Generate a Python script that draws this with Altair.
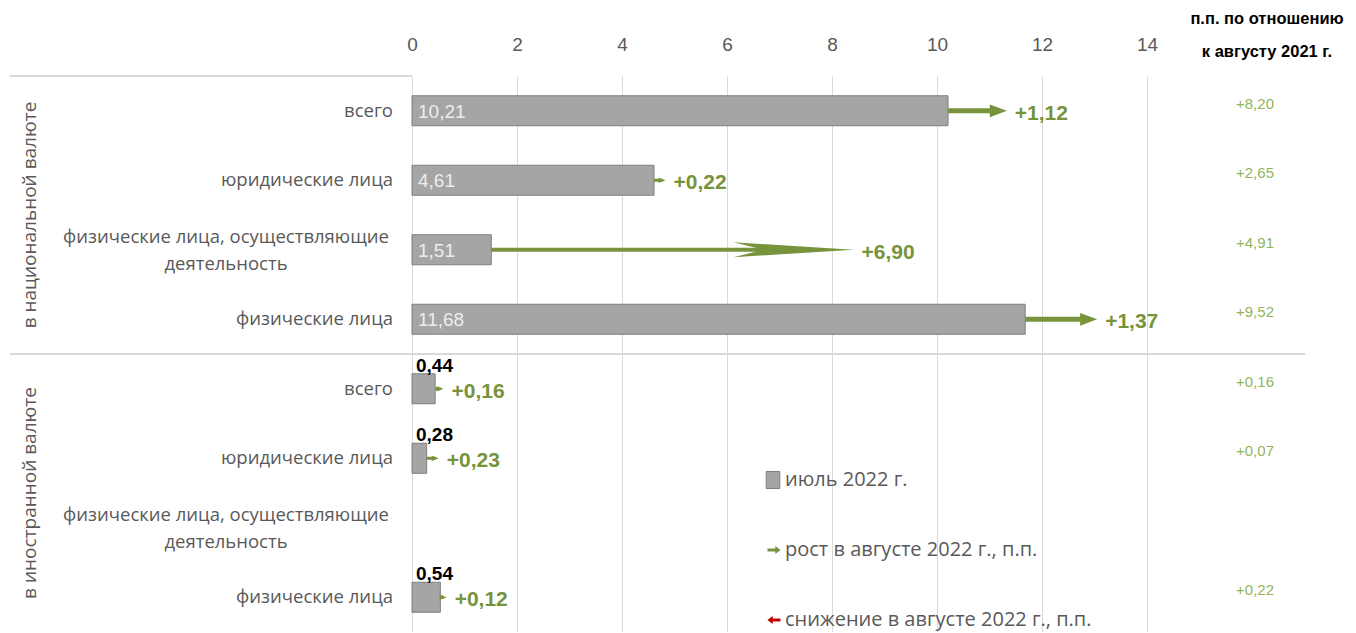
import altair as alt
import pandas as pd

# ---------------- data ----------------
groups = ["в национальной валюте", "в иностранной валюте"]
cat_line1 = ["всего", "юридические лица", "физические лица, осуществляющие", "физические лица"]
cat_line2 = ["", "", "деятельность", ""]

july_nat = [10.21, 4.61, 1.51, 11.68]
july_for = [0.44, 0.28, None, 0.54]
chg_nat = [1.12, 0.22, 6.90, 1.37]
chg_for = [0.16, 0.23, None, 0.12]
yoy_nat = [8.20, 2.65, 4.91, 9.52]
yoy_for = [0.16, 0.07, None, 0.22]

x_ticks = [0, 2, 4, 6, 8, 10, 12, 14]
header_text = "п.п. по отношению\nк августу 2021 г."
legend_labels = ["июль 2022 г.", "рост в августе 2022 г., п.п.", "снижение в августе 2022 г., п.п."]

records = []
for gi, (jul, chg, yoy) in enumerate([(july_nat, chg_nat, yoy_nat), (july_for, chg_for, yoy_for)]):
    for ci in range(len(cat_line1)):
        records.append({
            "row": gi * 4 + ci,
            "gi": gi,
            "line1": cat_line1[ci],
            "line2": cat_line2[ci],
            "value": jul[ci],
            "delta": chg[ci],
            "yoy": yoy[ci],
        })
df = pd.DataFrame(records)
gdf = pd.DataFrame({"group": groups, "gi": [0, 1]})
hdf = pd.DataFrame({"h": [header_text]})
ldf = pd.DataFrame({"label": legend_labels, "i": [0, 1, 2]})

# ---------------- styles ----------------
SANS = "Open Sans"
CAL = "Liberation Sans, Arial, sans-serif"
GREEN = "#77933C"
LGREEN = "#92B55A"
TXT = "#595959"
GRID = "#D9D9D9"

x_axis = alt.Axis(orient="top", values=x_ticks, grid=True, gridColor=GRID, gridWidth=1,
                  domain=False, ticks=False, labelFont=CAL, labelFontSize=19,
                  labelColor=TXT, labelPadding=22, title=None, labelFlush=False)
x_scale = alt.Scale(domain=[0, 14], nice=False, zero=True)
y_scale = alt.Scale(domain=[-0.5, 7.5], reverse=True, nice=False, zero=False, padding=0)


def X(field):
    return alt.X(f"{field}:Q", scale=x_scale, axis=x_axis)


Y = alt.Y("row:Q", scale=y_scale, axis=None)

base = alt.Chart(df).transform_calculate(
    end="datum.value + datum.delta",
    vlabel="replace(format(datum.value, '.2f'), '.', ',')",
    dlabel="'+' + replace(format(datum.delta, '.2f'), '.', ',')",
    ylabel="'+' + replace(format(datum.yoy, '.2f'), '.', ',')",
)
valid = base.transform_filter("isValid(datum.value)")

bars = valid.mark_bar(size=30, orient="horizontal", color="#A5A5A5",
                      stroke="#7F7F7F", strokeWidth=1).encode(x=X("value"), y=Y)

lab_in = valid.transform_filter("datum.gi == 0").mark_text(
    align="left", baseline="middle", dx=6, dy=1, font=CAL, fontSize=19, color="#EDEDED"
).encode(x=alt.value(0), y=Y, text="vlabel:N")

lab_top = valid.transform_filter("datum.gi == 1").mark_text(
    align="left", baseline="middle", dx=4, dy=-23, font=CAL, fontSize=19,
    fontWeight="bold", color="#000000"
).encode(x=alt.value(0), y=Y, text="vlabel:N")

arrow_path = "M0,0 L-2,-0.75 L-2,0.75 Z"
long_path = "M0,0 L-16,-1 L-12,0 L-16,1 Z"


def arrow(filter_expr, width, off, path, size):
    d = valid.transform_filter(filter_expr)
    shaft = d.mark_rule(color=GREEN, strokeWidth=width, x2Offset=off).encode(
        x=X("value"), x2="end:Q", y=Y)
    head = d.mark_point(filled=True, opacity=1, color=GREEN, shape=path, size=size,
                        strokeWidth=0).encode(x=X("end"), y=Y)
    return shaft + head


arr_long = arrow("datum.delta >= 5", 4, -60, long_path, 225)
arr_big = arrow("datum.delta >= 1 && datum.delta < 5", 5, -8, arrow_path, 289)
arr_small = arrow("datum.delta < 1", 3, -3, arrow_path, 49)

dlab = valid.mark_text(align="left", baseline="middle", dx=8, dy=3, font=CAL, fontSize=21,
                       fontWeight="bold", color=GREEN).encode(x=X("end"), y=Y, text="dlabel:N")

ylab = base.transform_filter("isValid(datum.yoy)").mark_text(
    align="center", baseline="middle", dy=-7, font=CAL, fontSize=15, color=LGREEN
).encode(x=alt.value(843), y=Y, text="ylabel:N")

cat1 = base.transform_filter("datum.line2 == ''").mark_text(
    align="right", baseline="middle", font=SANS, fontSize=18.5, color=TXT
).encode(x=alt.value(-19), y=Y, text="line1:N")

cat2 = base.transform_calculate(full="datum.line1 + '\\n' + datum.line2").transform_filter(
    "datum.line2 != ''").mark_text(
    align="center", baseline="middle", font=SANS, fontSize=18.5, color=TXT,
    lineBreak="\n", lineHeight=27, dy=-13
).encode(x=alt.value(-186), y=Y, text="full:N")

gbase = alt.Chart(gdf).transform_calculate(gc="datum.gi * 4 + 1.5", sep="datum.gi * 4 - 0.5")
glab = gbase.mark_text(angle=270, align="center", baseline="middle", font=SANS,
                       fontSize=19, color=TXT).encode(
    x=alt.value(-382), y=alt.Y("gc:Q", scale=y_scale, axis=None), text="group:N")
seps = gbase.transform_filter("datum.gi == 1").mark_rule(color=GRID, strokeWidth=2).encode(
    x=alt.value(-402), x2=alt.value(893), y=alt.Y("sep:Q", scale=y_scale, axis=None))
top_line = gbase.transform_filter("datum.gi == 0").mark_rule(color=GRID, strokeWidth=2).encode(
    x=alt.value(-402), x2=alt.value(0), y=alt.Y("sep:Q", scale=y_scale, axis=None))

header = alt.Chart(hdf).mark_text(
    align="center", baseline="middle", font=CAL, fontSize=16.5, fontWeight="bold",
    color="#000000", lineBreak="\n", lineHeight=33
).encode(x=alt.value(855), y=alt.value(-57), text="h:N")

lbase = alt.Chart(ldf).transform_calculate(ly="404 + datum.i * 70")
LY = alt.Y("ly:Q", scale=None, axis=None)
ltext = lbase.mark_text(align="left", baseline="middle", font=SANS, fontSize=20,
                        color=TXT).encode(x=alt.value(373), y=LY, text="label:N")
lsq = lbase.transform_filter("datum.i == 0").mark_point(
    shape="M-0.8,-1 L0.8,-1 L0.8,1 L-0.8,1 Z", size=289, filled=True, opacity=1,
    color="#A5A5A5", stroke="#7F7F7F", strokeWidth=1).encode(x=alt.value(361), y=LY)
right_arrow = "M1,0 L0.2,-0.6 L0.2,-0.22 L-1,-0.22 L-1,0.22 L0.2,0.22 L0.2,0.6 Z"
left_arrow = "M-1,0 L-0.2,-0.6 L-0.2,-0.22 L1,-0.22 L1,0.22 L-0.2,0.22 L-0.2,0.6 Z"
lgreen = lbase.transform_filter("datum.i == 1").mark_point(
    shape=right_arrow, size=169, filled=True, opacity=1, color=GREEN, strokeWidth=0
).encode(x=alt.value(362), y=LY)
lred = lbase.transform_filter("datum.i == 2").mark_point(
    shape=left_arrow, size=169, filled=True, opacity=1, color="#C00000", strokeWidth=0
).encode(x=alt.value(362), y=LY)

chart = alt.layer(
    bars, arr_long, arr_big, arr_small, lab_in, lab_top, dlab, ylab, cat1, cat2,
    glab, seps, top_line, header, ltext, lsq, lgreen, lred
).properties(
    width=735, height=556,
    padding={"left": 404, "top": 68, "right": 201, "bottom": 0},
    autosize=alt.AutoSizeParams(type="none"),
    background="white",
).configure_view(stroke=None)

chart.save("out.html", embed_options={"renderer": "svg", "actions": False})
